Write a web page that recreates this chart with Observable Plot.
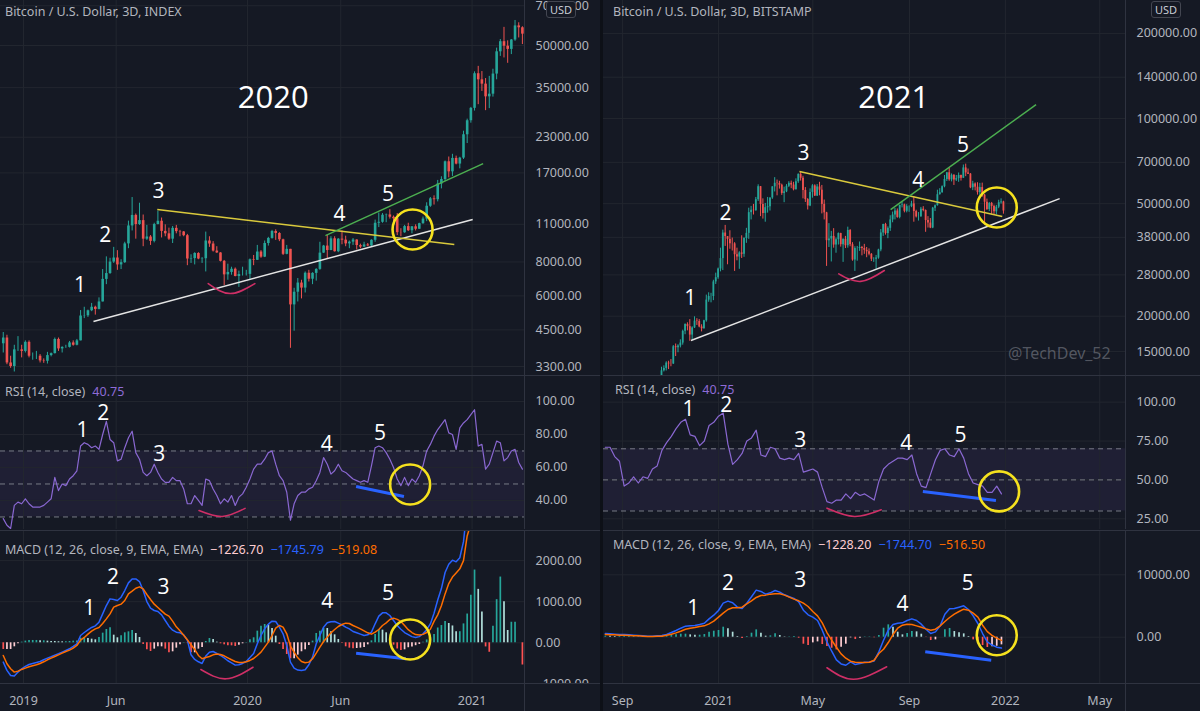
<!DOCTYPE html>
<html><head><meta charset="utf-8">
<script src="https://cdn.jsdelivr.net/npm/d3@7"></script>
<script src="https://cdn.jsdelivr.net/npm/@observablehq/plot@0.6"></script>
<style>
body{margin:0;background:#151924;}
#root{position:relative;width:1200px;height:711px;overflow:hidden;background:#151924;font-family:"Noto Sans","Open Sans",Roboto,sans-serif;}
.hdr{position:absolute;font-size:12.5px;color:#b2b5be;white-space:nowrap;line-height:16px;}
.hdr span{margin-left:7px;}
.sep{position:absolute;background:#2f3340;}
.usd{position:absolute;font-size:11px;color:#c9ccd4;border:1px solid #434651;border-radius:3px;background:#151924;padding:0 3px;line-height:15px;}
.wm{position:absolute;font-size:16px;color:rgba(160,163,172,0.45);white-space:nowrap;}
</style></head>
<body><div id="root"></div>
<script>
// ---------------- DATA ----------------
// Left chart: BTC/USD INDEX, candles of 6 days starting 2018-11-26
const leftStart = "2018-11-26", leftStep = 6, leftOpen0 = 4000;
const leftClose = [4200,3400,3300,3800,3800,3750,4050,3600,3600,3600,
3460,3450,3620,3680,4150,3830,3880,3880,4030,3950,
4100,5060,5070,5290,5450,5350,5700,6900,7250,7990,
8270,7800,7950,9320,10850,11860,10980,11350,9700,9880,
9520,10980,11290,10360,10150,9700,10630,10340,10310,9990,
8200,8230,8590,8200,8220,9550,9310,8770,8630,8040,
7170,7320,7520,7070,7190,7190,7200,8150,8110,8700,
8330,9350,9760,10350,10180,9650,8530,8900,5560,6190,
6690,6410,7270,6910,7260,7510,8620,9150,8810,9730,
8720,9700,9620,9320,9460,9630,9190,9070,9240,9160,
9610,11100,11190,11880,11910,11680,11530,10250,10240,10790,
10420,10770,10550,11060,11500,12820,13650,13550,15480,16070,
18680,17150,19220,18320,19270,23480,26440,29370,39370,37390,
36050,32370,33110,39260,47400,51640,49710,48380,52380,59010,
58100,55040];
const leftHigh = [4400,4300,3600,3950,4250,3950,4100,4100,3700,3750,
3650,3520,3720,3700,4200,4200,3900,3950,4080,4100,
4150,5300,5450,5320,5630,5500,5900,7500,8350,8250,
9050,8800,8150,9450,11300,13800,12000,13150,11900,10900,
10000,11100,12300,11600,10950,10650,10800,10900,10450,10350,
10100,8500,8650,8650,8300,10300,9900,9500,9100,8650,
8100,7850,7650,7600,7400,7650,7450,8200,8450,9200,
8800,9550,9850,10450,10500,10250,9700,9200,8900,6400,
6950,6850,7350,7450,7300,7550,9450,9200,10050,9900,
9900,9750,10400,9950,9550,9750,9650,9300,9450,9350,
9650,11400,12100,12050,12000,12450,11800,12050,10600,10900,
11100,10800,10950,11100,11700,13200,13800,14000,15950,16450,
18800,19450,19900,19600,19400,24200,26800,29600,40000,41900,
40100,37800,38500,40900,48900,52600,58300,52000,52600,61800,
60600,58600];
const leftLow = [3700,3350,3250,3150,3750,3550,3700,3550,3480,3500,
3400,3390,3370,3580,3670,3750,3700,3850,3860,3920,
3930,4100,4950,5000,5250,5100,5330,5700,6600,7200,
7900,7450,7500,7900,8950,10400,9700,10900,9100,9600,
9200,9400,10950,9800,9900,9600,9350,10150,9900,9900,
7750,7900,7800,8150,7900,7350,9050,8700,8600,8000,
6550,6850,7150,7050,6450,7100,7100,6900,7750,8100,
8250,8300,9150,9700,9600,9500,8450,8500,3850,4450,
5700,5850,6150,6750,6600,6800,7450,8600,8200,8800,
8700,8650,9250,9100,8950,9200,8850,8950,9050,9100,
9100,9450,10700,11100,11150,11500,11150,10000,9900,10200,
10350,10150,10400,10550,11000,11250,12700,12950,13300,14850,
15800,16300,16500,18200,17600,19050,21800,25900,28700,30300,
33900,28800,29300,32300,37400,45600,45000,43000,46300,51800,
53300,50400];
const leftRSI = [29,25,23,37,39,38,41,38,36,36,
36,37,39,41,54,46,50,49,53,55,
58,73,75,74,72,73,71,80,88,77,
75,64,65,72,78,82,69,65,57,55,
57,62,57,53,51,51,54,52,52,47,
38,38,43,40,37,53,52,47,43,38,
41,39,43,37,42,44,48,53,59,62,
62,65,69,70,62,55,52,45,28,38,
43,45,45,47,48,52,57,66,62,56,
58,62,58,57,55,53,52,51,52,51,
61,72,73,72,69,65,60,53,49,54,
49,53,51,55,61,70,74,79,83,86,
89,81,80,71,84,87,89,92,95,73,
74,59,62,69,76,75,64,66,70,71,
63,59];
const leftMACD = [-470,-672,-794,-810,-713,-632,-575,-527,-502,-478,
-454,-413,-373,-340,-300,-267,-227,-186,-146,-89,
-24,178,251,316,373,413,502,705,907,1069,
1053,1029,1110,1272,1458,1555,1555,1490,1272,1004,
842,786,761,680,543,405,308,259,243,194,
65,-292,-405,-462,-502,-324,-227,-211,-259,-308,
-365,-437,-486,-543,-535,-502,-454,-356,-259,-24,
178,340,454,527,518,381,219,-65,-470,-616,
-664,-672,-656,-535,-348,-24,178,381,486,510,
518,478,437,381,340,275,243,211,178,194,
259,462,648,729,729,664,543,420,330,250,
200,150,130,150,220,320,460,720,1040,1320,
1710,1910,2010,1970,2070,2460,3300,4060,5170,5200,
5000,4250,4070,4750,5650,6600,6300,5700,6000,6100,
5650,5060];
const leftSignal = [-308,-510,-632,-713,-689,-648,-616,-583,-559,-535,
-502,-462,-413,-373,-332,-292,-251,-211,-178,-130,
-65,65,130,211,284,340,373,470,583,705,
867,907,940,1029,1191,1256,1328,1361,1312,1175,
1053,940,859,778,697,648,527,389,292,186,
73,-49,-162,-308,-389,-356,-332,-292,-275,-284,
-316,-365,-413,-454,-478,-478,-462,-429,-381,-308,
-227,-105,16,178,356,421,381,219,-81,-227,
-365,-454,-486,-470,-389,-251,-105,32,138,243,
324,397,446,478,470,421,381,340,292,243,
211,259,324,421,486,567,600,570,520,420,
320,250,200,190,205,250,330,520,680,900,
1190,1440,1600,1700,1800,2000,2600,2900,3400,3900,
4250,4350,4300,4350,4600,5000,5300,5400,5500,5600,
5650,5600];

// Right chart: BTC/USD BITSTAMP, 3-day candles from 2020-10-19
const rightStart = "2020-10-19", rightStep = 3, rightOpen0 = 11500;
const rightClose = [12820,13070,13650,13560,13550,15590,15480,15700,16070,17680,
18680,18370,17150,18180,19220,19150,18320,18060,19270,22800,
23480,23480,26440,27370,29370,31970,39370,38240,37390,36070,
36050,33000,32370,33470,33110,37670,39260,46480,47400,47220,
51640,57410,49710,46190,48380,48760,52380,57330,59010,58910,
58100,54340,55040,57610,59000,58200,56000,59800,63500,61500,
55700,51700,49100,54800,57800,53200,57300,55800,49700,46400,
37000,37500,38300,35700,37300,39200,35800,37400,35500,40200,
35800,31600,34700,34700,35000,34700,34200,33800,33100,31800,
31800,32100,34300,39400,42200,39200,40900,43800,45600,47100,
44700,49300,49500,47000,48800,48800,49900,46900,44900,44900,
47800,47300,43600,42700,41000,48200,49200,53800,54700,57400,
60900,64300,60700,63000,60600,61300,62900,61500,66900,64200,
63600,56900,58700,57200,54700,57000,53600,50600,47700,50100,
48900,46800,48600,50400,50700,47100];
const rightHigh = [13200,13350,13800,13860,14050,15750,15950,15850,16500,17850,
18800,18950,19450,18350,19900,19600,19450,18650,19350,23750,
24200,24100,26800,28400,29600,34800,40300,41900,38200,40100,
37800,36400,34800,33800,38500,37900,40900,48200,48900,49700,
52600,58300,57500,52000,50100,52600,52400,57400,61800,60600,
60000,58600,57200,58400,59800,60100,59500,61200,63700,64800,
62500,57000,52100,56400,58400,58300,58400,59500,58000,51500,
46600,42500,39900,40800,37800,39400,39300,37500,38300,41300,
40500,36400,35200,35300,36600,35300,35900,35000,34600,33300,
32200,32800,34500,40500,42300,42600,41400,45300,46700,48100,
47900,49400,50500,49800,49600,49100,51000,52900,47400,46500,
48500,48800,47500,45000,44300,48500,49500,55800,56500,57800,
62900,64500,67000,63700,63300,62900,64200,63100,68500,69000,
66300,63900,60000,59200,59300,59000,59100,53900,51900,50500,
50500,49400,49300,51400,52000,51000];
const rightLow = [11450,12700,12800,12950,13250,13500,14400,14850,15450,15800,
17200,17750,16300,16500,18100,18550,18200,17600,18000,19050,
22400,22300,22700,25900,27000,28700,29000,35300,30400,34500,
34000,28800,31400,29300,32000,32300,36200,37400,43800,45600,
47000,50900,45000,44100,43000,46300,47100,51800,55000,53300,
56300,53500,50400,54700,57000,56500,55500,55900,59000,60100,
52000,50500,47500,48800,52300,53000,53000,53300,46000,43800,
30000,35000,31100,34800,33400,35700,35100,31000,34700,34800,
35200,31300,28800,31300,33900,32700,33100,32200,32700,31200,
31000,29300,31800,33800,38300,38700,37600,39900,42800,43800,
44400,44200,48300,46400,46400,46600,48400,43000,44500,43400,
44800,46800,39600,41000,40800,40800,46900,49000,53600,54400,
56900,59900,60000,59700,58000,59900,59500,60100,61400,62300,
63400,56500,55600,55500,53600,53300,52700,42000,47300,46900,
45700,45500,45600,48000,49800,45900];
// Right indicators sampled every 6 days from 2020-08-10
const rightIndStart = "2020-08-10", rightIndStep = 6;
const rightRSI = [71,71,65,62,46,48,52,48,52,51,
57,59,69,74,78,83,87,89,79,78,
72,75,85,87,91,93,73,60,63,67,
75,77,82,66,65,71,70,64,63,64,
63,67,55,56,57,55,45,36,35,37,
37,41,38,42,40,41,39,37,49,57,
60,62,64,64,63,66,54,46,45,54,
63,69,70,66,65,70,64,54,48,47,
46,42,42,46,41];
const rightMACD = [589,535,482,428,428,375,321,268,214,161,
161,214,268,428,749,1070,1445,1766,1819,1873,
2033,2247,2943,3531,4280,5457,5778,5511,4815,4601,
5457,6474,7544,7330,6902,7116,7490,7223,6795,6474,
6206,5671,4334,3585,3210,2675,1124,-749,-2247,-3638,
-4280,-4494,-3959,-4387,-4227,-4013,-3959,-3799,-2354,-482,
1124,2033,2247,2301,2675,2943,2675,2087,1284,589,
856,1819,3692,4548,4601,4815,5029,4441,3424,2194,
589,-749,-1250,-1600,-1745];
const rightSignal = [428,375,375,321,321,268,214,214,161,107,
107,161,161,321,482,696,963,1284,1445,1552,
1712,1819,2140,2568,3210,3852,4441,4708,4708,4815,
5350,5831,6367,6688,6741,6902,6955,6955,6741,6420,
6099,5831,5457,4922,4120,3424,2301,749,-482,-1605,
-2675,-3371,-3852,-4013,-4066,-4066,-4013,-3692,-2622,-1926,
-856,428,1445,1926,2087,2033,1819,1605,1338,1124,
1284,1819,2514,3157,3692,4120,4494,4334,3852,3210,
1926,900,300,-150,-517];

// Axis ticks and labels
const leftPriceTicks = [3300,4500,6000,8000,11000,17000,23000,35000,50000,70000];
const rightPriceTicks = [15000,20000,28000,38000,50000,70000,100000,140000,200000];
const leftRSITicks = [40,60,80,100];
const rightRSITicks = [25,50,75,100];
const rsiLevels = [30,50,70];
const leftMACDTicks = [-1000,0,1000,2000];
const rightMACDTicks = [0,10000];
const leftTimeTicks = ["2019-01-01","2019-06-01","2020-01-01","2020-06-01","2021-01-01"];
const leftTimeLabels = ["2019","Jun","2020","Jun","2021"];
const rightTimeTicks = ["2020-09-01","2021-01-01","2021-05-01","2021-09-01","2022-01-01","2022-05-01"];
const rightTimeLabels = ["Sep","2021","May","Sep","2022","May"];

// Annotations (values in data space)
const leftPriceWaves = [{t:"1",date:"2019-04-03",v:6550},{t:"2",date:"2019-05-14",v:10000},{t:"3",date:"2019-08-09",v:14520},{t:"4",date:"2020-05-30",v:11950},{t:"5",date:"2020-08-17",v:14150}];
const leftYear = [{t:"2020",date:"2020-02-12",v:31900}];
const leftPriceLines = [
  {kind:"support",x1:"2019-04-25",y1:4830,x2:"2021-01-02",y2:11460},
  {kind:"resistance",x1:"2019-08-07",y1:12470,x2:"2020-12-03",y2:9270},
  {kind:"channel",x1:"2020-05-07",y1:10000,x2:"2021-01-19",y2:18400}];
const leftPriceCircle = [{date:"2020-09-26",v:10530}];
const leftPriceArc = [{date:"2019-10-29",v:6660},{date:"2019-12-04",v:6120},{date:"2020-01-13",v:6660}];
const leftRSIWaves = [{t:"1",date:"2019-04-07",v:82.4},{t:"2",date:"2019-05-11",v:92.7},{t:"3",date:"2019-08-10",v:67.9},{t:"4",date:"2020-05-09",v:73.9},{t:"5",date:"2020-08-04",v:80.6}];
const leftRSIDiv = [{kind:"div",x1:"2020-06-26",y1:48.5,x2:"2020-09-12",y2:42.4}];
const leftRSICircle = [{date:"2020-09-22",v:49.7}];
const leftRSIArc = [{date:"2019-10-14",v:33.9},{date:"2019-11-21",v:30.3},{date:"2019-12-28",v:35.2}];
const leftMACDWaves = [{t:"1",date:"2019-04-18",v:835},{t:"2",date:"2019-05-27",v:1590},{t:"3",date:"2019-08-17",v:1345},{t:"4",date:"2020-05-10",v:1004},{t:"5",date:"2020-08-17",v:1200}];
const leftMACDDiv = [{kind:"div",x1:"2020-06-26",y1:-253,x2:"2020-09-15",y2:-389}];
const leftMACDCircle = [{date:"2020-09-22",v:80}];
const leftMACDArc = [{date:"2019-10-17",v:-650},{date:"2019-11-27",v:-876},{date:"2020-01-10",v:-594}];

const rightPriceWaves = [{t:"1",date:"2020-11-26",v:23070},{t:"2",date:"2021-01-10",v:46130},{t:"3",date:"2021-04-19",v:75180},{t:"4",date:"2021-09-12",v:60300},{t:"5",date:"2021-11-08",v:80300}];
const rightYear = [{t:"2021",date:"2021-08-12",v:118600}];
const rightPriceLines = [
  {kind:"support",x1:"2020-11-27",y1:16400,x2:"2022-03-11",y2:52100},
  {kind:"resistance",x1:"2021-04-14",y1:64960,x2:"2021-12-28",y2:45040},
  {kind:"channel",x1:"2021-08-08",y1:47650,x2:"2022-02-09",y2:112000}];
const rightPriceCircle = [{date:"2021-12-21",v:48450}];
const rightPriceArc = [{date:"2021-06-03",v:28240},{date:"2021-07-01",v:26550},{date:"2021-07-31",v:29020}];
const rightRSIWaves = [{t:"1",date:"2020-11-24",v:95.5},{t:"2",date:"2021-01-11",v:98.3},{t:"3",date:"2021-04-15",v:75.8},{t:"4",date:"2021-08-28",v:73.6},{t:"5",date:"2021-11-05",v:79}];
const rightRSIDiv = [{kind:"div",x1:"2021-09-18",y1:42.6,x2:"2021-12-20",y2:36.8}];
const rightRSICircle = [{date:"2021-12-24",v:42.6}];
const rightRSIArc = [{date:"2021-05-19",v:31.8},{date:"2021-06-23",v:26.5},{date:"2021-07-27",v:30.8}];
const rightMACDWaves = [{t:"1",date:"2020-11-30",v:4599},{t:"2",date:"2021-01-13",v:8610},{t:"3",date:"2021-04-15",v:9090},{t:"4",date:"2021-08-23",v:5240},{t:"5",date:"2021-11-14",v:8610}];
const rightMACDDiv = [{kind:"div",x1:"2021-09-21",y1:-2340,x2:"2021-12-14",y2:-3690}];
const rightMACDCircle = [{date:"2021-12-21",v:320}];
const rightMACDArc = [{date:"2021-05-19",v:-4900},{date:"2021-06-22",v:-6730},{date:"2021-08-03",v:-4740}];

// ---------------- STYLE / LAYOUT ----------------
const GRID = "#22262f", SEP = "#2f3340", TXT = "#b2b5be";
const FONT = '"Noto Sans","Open Sans",Roboto,sans-serif';
const NUMFONT = '"Open Sans","Noto Sans",sans-serif';
const UP = "#26a69a", DOWN = "#ef5350";
const LINECOL = {support:"#e4e4e4", resistance:"#d9c93c", channel:"#4caf50", div:"#2962ff"};
const DAY = 864e5;
const utc = s => new Date(s + "T00:00:00Z");

const panes = {
  left:  {x:0,   width:600, mr:76, xDomain:[new Date(Date.UTC(2018,10,24,12)), new Date(Date.UTC(2021,2,27,10))]},
  right: {x:603, width:597, mr:75, xDomain:[new Date(Date.UTC(2020,7,7,17)), new Date(Date.UTC(2022,5,2,19))]}
};
const rows = {price:{top:0,h:375}, rsi:{top:376,h:153}, macd:{top:531,h:152}, time:{top:684,h:27}};

function makeCandles(start, step, open0, close, high, low) {
  const t0 = utc(start).getTime();
  return close.map((c, i) => ({date:new Date(t0 + (i*step + step/2)*DAY), open:i ? close[i-1] : open0, close:c, high:high[i], low:low[i]}));
}
function makeInd(start, step, offset, rsi, macd, signal) {
  const t0 = utc(start).getTime();
  return rsi.map((r, i) => ({date:new Date(t0 + (i*step + offset)*DAY), rsi:r, macd:macd[i], signal:signal[i],
    hist:macd[i]-signal[i], prev:i ? macd[i-1]-signal[i-1] : 0}));
}
const histColor = d => d.hist >= 0 ? (d.hist >= d.prev ? "#26a69a" : "#b2dfdb") : (d.hist < d.prev ? "#ff5252" : "#ffcdd2");
const fmt = d => d.toFixed(2).replace("-", "\u2212");

const root = document.getElementById("root");

function place(pane, row, y, marks) {
  const svg = Plot.plot({
    width: pane.width, height: row.h,
    marginLeft: 0, marginRight: pane.mr, marginTop: 0, marginBottom: 0,
    style: {background:"transparent", color:TXT, fontFamily:FONT, fontSize:"12.5px", overflow:"hidden"},
    x: {type:"utc", domain:pane.xDomain, axis:null},
    y: Object.assign({axis:null}, y),
    color: {type:"identity"},
    marks
  });
  svg.style.position = "absolute";
  svg.style.left = pane.x + "px";
  svg.style.top = row.top + "px";
  root.appendChild(svg);
}

function annot(waves, lines, circle, arc, waveSize) {
  return [
    Plot.link(lines, {x1:d => utc(d.x1), y1:"y1", x2:d => utc(d.x2), y2:"y2", stroke:d => LINECOL[d.kind], strokeWidth:d => d.kind === "div" ? 3 : 1.5}),
    Plot.line(arc, {x:d => utc(d.date), y:"v", curve:"natural", stroke:"#cf2f66", strokeWidth:1.6}),
    Plot.dot(circle, {x:d => utc(d.date), y:"v", r:20, stroke:"#f5e11e", strokeWidth:2.6, fill:"none"}),
    Plot.text(waves, {x:d => utc(d.date), y:"v", text:"t", fill:"#ffffff", fontSize:waveSize, fontFamily:NUMFONT})
  ];
}
function common(pane, timeTicks, valueTicks) {
  return [
    Plot.gridX(timeTicks.map(utc), {stroke:GRID, strokeOpacity:1}),
    Plot.gridY(valueTicks, {stroke:GRID, strokeOpacity:1})
  ];
}
function edge(pane) { return Plot.ruleX([pane.xDomain[1]], {stroke:SEP}); }
function yAxis(ticks) { return Plot.axisY(ticks, {anchor:"right", tickSize:0, tickPadding:11, tickFormat:fmt, label:null, fill:TXT}); }

function drawChart(pane, cfg) {
  const candles = makeCandles(cfg.start, cfg.step, cfg.open0, cfg.close, cfg.high, cfg.low);
  const ind = makeInd(cfg.indStart, cfg.indStep, cfg.indOffset, cfg.rsi, cfg.macd, cfg.signal);
  const color = d => d.close >= d.open ? UP : DOWN;
  // price
  place(pane, rows.price, {type:"log", domain:cfg.priceDomain}, [
    ...common(pane, cfg.timeTicks, cfg.priceTicks),
    Plot.ruleX(candles, {x:"date", y1:"low", y2:"high", stroke:color, strokeWidth:1, clip:true}),
    Plot.ruleX(candles, {x:"date", y1:"open", y2:"close", stroke:color, strokeWidth:cfg.bodyW, clip:true}),
    Plot.text(cfg.year, {x:d => utc(d.date), y:"v", text:"t", fill:"#ffffff", fontSize:31, fontFamily:NUMFONT}),
    ...annot(cfg.priceWaves, cfg.priceLines, cfg.priceCircle, cfg.priceArc, 21),
    edge(pane), yAxis(cfg.priceTicks)
  ]);
  // RSI
  place(pane, rows.rsi, {domain:cfg.rsiDomain}, [
    Plot.rect([rsiLevels], {x1:() => pane.xDomain[0], x2:() => pane.xDomain[1], y1:d => d[0], y2:d => d[2], fill:"#7e57c2", fillOpacity:0.1}),
    ...common(pane, cfg.timeTicks, cfg.rsiTicks),
    Plot.ruleY(rsiLevels, {stroke:"#787b86", strokeDasharray:"5,4", strokeWidth:1}),
    Plot.line(ind, {x:"date", y:"rsi", stroke:"#8a68d2", strokeWidth:1.2, clip:true}),
    ...annot(cfg.rsiWaves, cfg.rsiDiv, cfg.rsiCircle, cfg.rsiArc, 21),
    edge(pane), yAxis(cfg.rsiTicks)
  ]);
  // MACD
  place(pane, rows.macd, {domain:cfg.macdDomain}, [
    ...common(pane, cfg.timeTicks, cfg.macdTicks),
    Plot.ruleX(ind, {x:"date", y1:0, y2:"hist", stroke:histColor, strokeWidth:1.7, clip:true}),
    Plot.line(ind, {x:"date", y:"macd", stroke:"#2962ff", strokeWidth:1.5, clip:true}),
    Plot.line(ind, {x:"date", y:"signal", stroke:"#ff6d00", strokeWidth:1.5, clip:true}),
    ...annot(cfg.macdWaves, cfg.macdDiv, cfg.macdCircle, cfg.macdArc, 21),
    edge(pane), yAxis(cfg.macdTicks)
  ]);
  // time axis
  const tl = cfg.timeTicks.map((t, i) => ({date:utc(t), label:cfg.timeLabels[i]}));
  place(pane, rows.time, {domain:[0,1]}, [
    Plot.text(tl, {x:"date", text:"label", frameAnchor:"middle", dy:3, fill:TXT, fontSize:12.5, fontFamily:FONT}),
    edge(pane)
  ]);
}

drawChart(panes.left, {
  start:leftStart, step:leftStep, open0:leftOpen0, close:leftClose, high:leftHigh, low:leftLow, bodyW:2.6,
  indStart:leftStart, indStep:leftStep, indOffset:3, rsi:leftRSI, macd:leftMACD, signal:leftSignal,
  priceDomain:[3058,73190], rsiDomain:[22.4,115.15], macdDomain:[-990,2708],
  priceTicks:leftPriceTicks, rsiTicks:leftRSITicks, macdTicks:leftMACDTicks,
  timeTicks:leftTimeTicks, timeLabels:leftTimeLabels, year:leftYear,
  priceWaves:leftPriceWaves, priceLines:leftPriceLines, priceCircle:leftPriceCircle, priceArc:leftPriceArc,
  rsiWaves:leftRSIWaves, rsiDiv:leftRSIDiv, rsiCircle:leftRSICircle, rsiArc:leftRSIArc,
  macdWaves:leftMACDWaves, macdDiv:leftMACDDiv, macdCircle:leftMACDCircle, macdArc:leftMACDArc
});
drawChart(panes.right, {
  start:rightStart, step:rightStep, open0:rightOpen0, close:rightClose, high:rightHigh, low:rightLow, bodyW:1.8,
  indStart:rightIndStart, indStep:rightIndStep, indOffset:0, rsi:rightRSI, macd:rightMACD, signal:rightSignal,
  priceDomain:[12340,261500], rsiDomain:[18.1,116.5], macdDomain:[-7420,16940],
  priceTicks:rightPriceTicks, rsiTicks:rightRSITicks, macdTicks:rightMACDTicks,
  timeTicks:rightTimeTicks, timeLabels:rightTimeLabels, year:rightYear,
  priceWaves:rightPriceWaves, priceLines:rightPriceLines, priceCircle:rightPriceCircle, priceArc:rightPriceArc,
  rsiWaves:rightRSIWaves, rsiDiv:rightRSIDiv, rsiCircle:rightRSICircle, rsiArc:rightRSIArc,
  macdWaves:rightMACDWaves, macdDiv:rightMACDDiv, macdCircle:rightMACDCircle, macdArc:rightMACDArc
});

// ---------------- OVERLAYS (separators, legends, headers) ----------------
function div(cls, style, html) {
  const d = document.createElement("div");
  d.className = cls; d.setAttribute("style", style); d.innerHTML = html || "";
  root.appendChild(d);
}
// pane separators
[[0,600],[603,597]].forEach(([x,w]) => {
  [375,530,683].forEach(y => div("sep", `left:${x}px;top:${y}px;width:${w}px;height:1px;`));
});
div("sep", "left:600px;top:0;width:3px;height:711px;background:#0d1017;");
// headers
div("hdr", "left:5px;top:4px;", "Bitcoin / U.S. Dollar, 3D, INDEX");
div("hdr", "left:613px;top:4px;", "Bitcoin / U.S. Dollar, 3D, BITSTAMP");
div("hdr", "left:5px;top:384px;", 'RSI (14, close)<span style="color:#8e6bd6">40.75</span>');
div("hdr", "left:615px;top:382px;", 'RSI (14, close)<span style="color:#8e6bd6">40.75</span>');
div("hdr", "left:5px;top:542px;", 'MACD (12, 26, close, 9, EMA, EMA)<span style="color:#ffcdd2">\u22121226.70</span><span style="color:#2962ff">\u22121745.79</span><span style="color:#ff6d00">\u2212519.08</span>');
div("hdr", "left:613px;top:537px;", 'MACD (12, 26, close, 9, EMA, EMA)<span style="color:#ffcdd2">\u22121228.20</span><span style="color:#2962ff">\u22121744.70</span><span style="color:#ff6d00">\u2212516.50</span>');
div("usd", "left:546px;top:1px;", "USD");
div("usd", "left:1151px;top:1px;", "USD");
div("wm", "left:1008px;top:342px;", "@TechDev_52");
</script>
</body></html>
